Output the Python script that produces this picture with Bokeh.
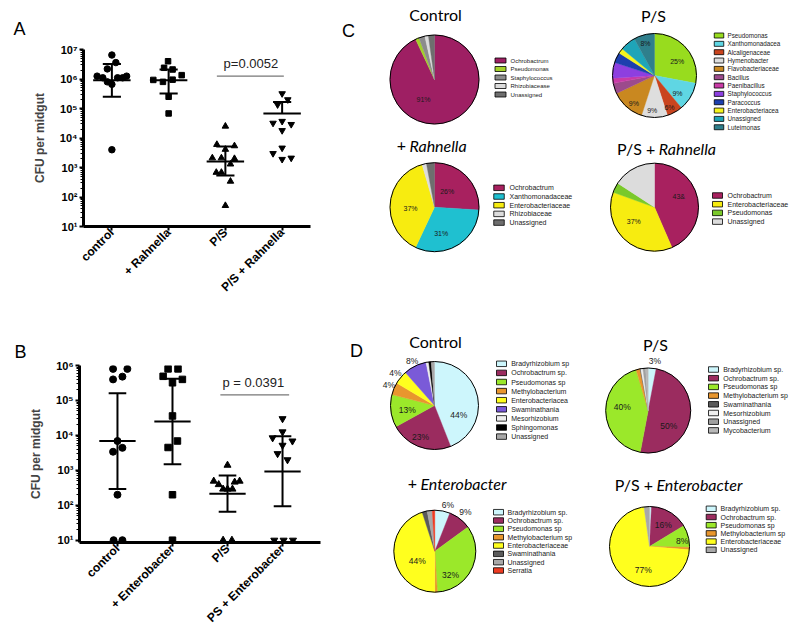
import numpy as np
from bokeh.plotting import figure
from bokeh.models import Range1d, FixedTicker
from bokeh.layouts import row, column
from bokeh.embed import file_html
from bokeh.resources import INLINE
from bokeh.core.properties import value

SANS = "Liberation Sans"
TITLE = "Lato"
SUP = str.maketrans("0123456789", "⁰¹²³⁴⁵⁶⁷⁸⁹")

# ---------------- Panel A data (CFU per midgut) ----------------
A_groups = ["control", "+ Rahnella", "P/S", "P/S + Rahnella"]
A_control_cfu = [6.5e6, 3.6e6, 2.2e6, 1.25e6, 1.1e6, 1.1e6, 1.1e6, 1.25e6, 8.0e5, 6.6e5, 4.0e3]
A_control_dx = [0.00, 0.07, -0.08, -0.26, -0.16, 0.10, 0.19, 0.26, -0.08, 0.00, 0.00]
A_rahnella_cfu = [4.0e6, 2.4e6, 2.1e6, 1.35e6, 9.3e5, 8.0e5, 9.5e5, 2.5e5, 6.8e4]
A_rahnella_dx = [-0.01, -0.08, 0.07, 0.23, -0.27, -0.10, 0.07, 0.00, 0.00]
A_ps_cfu = [2.5e4, 6.0e3, 5.4e3, 4.1e3, 2.1e3, 2.1e3, 2.0e3, 1.3e3, 6.8e2, 6.8e2, 3.4e2, 51]
A_ps_dx = [0.00, -0.15, 0.16, 0.00, -0.23, -0.07, 0.16, 0.09, -0.16, -0.07, 0.09, 0.00]
A_psr_cfu = [3.2e5, 2.0e5, 1.35e5, 3.2e4, 3.7e4, 2.9e4, 1.8e4, 4.6e3, 3.0e3, 1.9e3, 2.1e3]
A_psr_dx = [0.00, 0.10, -0.08, -0.16, 0.00, 0.16, 0.00, 0.00, -0.16, 0.00, 0.16]
A_mean = [9.1e5, 9.1e5, 1.6e3, 6.8e4]
A_upper = [3.2e6, 2.1e6, 5.2e3, 1.65e5]
A_lower = [2.5e5, 3.2e5, 5.4e2, None]
A_pvalue = "p=0.0052"

# ---------------- Panel B data ----------------
B_groups = ["control", "+ Enterobacter", "P/S", "PS + Enterobacter"]
B_control_cfu = [8.0e5, 8.0e5, 4.0e5, 4.8e5, 6.9e3, 3.4e3, 4.4e3, 200, 10, 10]
B_control_dx = [-0.08, 0.18, -0.08, 0.09, 0.00, -0.08, 0.09, 0.00, -0.07, 0.09]
B_entero_cfu = [8.0e5, 8.0e5, 4.9e5, 4.0e5, 3.2e5, 3.6e4, 6.9e3, 4.5e3, 200, 10]
B_entero_dx = [-0.08, 0.10, -0.17, 0.18, 0.00, 0.00, 0.09, -0.08, 0.00, 0.00]
B_ps_cfu = [1.4e3, 490, 390, 490, 460, 290, 290, 290, 10, 10]
B_ps_dx = [0.00, -0.25, -0.16, 0.22, 0.13, -0.08, 0.00, 0.09, -0.08, 0.08]
B_pse_cfu = [3.0e4, 1.26e4, 8.5e3, 6.9e3, 5.2e3, 3.0e3, 2.0e3, 10, 10, 10]
B_pse_dx = [0.00, 0.00, -0.18, 0.18, 0.00, -0.09, 0.09, -0.15, 0.02, 0.19]
B_mean = [6.9e3, 2.5e4, 215, 930]
B_upper = [1.6e5, 4.2e5, 710, 9.5e3]
B_lower = [290, 1.5e3, 65, 93]
B_pvalue = "p = 0.0391"

# ---------------- Panel C data (% of reads) ----------------
C1_names = ["Ochrobactrum", "Pseudomonas", "Staphylococcus", "Rhizobiacease", "Unassigned"]
C1_pct = [93, 1.3, 2.2, 1.3, 2.2]
C2_names = ["Pseudomonas", "Xanthomonadacea", "Alcaligenaceae", "Hymenobacter", "Flavobacteriaceae",
            "Bacillus", "Paenibacillus", "Staphylococcus", "Paracoccus", "Enterobacteriacea",
            "Unassigned", "Luteimonas"]
C2_pct = [28, 11, 6, 10, 13, 4, 2, 6, 4, 2, 6, 8]
C3_names = ["Ochrobactrum", "Xanthomonadaceae", "Enterobacteriaceae", "Rhizobiaceae", "Unassigned"]
C3_pct = [26, 31, 38.5, 1.6, 2.9]
C4_names = ["Ochrobactrum", "Enterobacteriaceae", "Pseudomonas", "Unassigned"]
C4_pct = [43.5, 37, 3.7, 15.8]

# ---------------- Panel D data ----------------
D1_names = ["Bradyrhizobium sp", "Ochrobactrum sp.", "Pseudomonas sp", "Methylobacterium",
            "Enterobacteriacea", "Swaminathania", "Mesorhizobium", "Sphingomonas", "Unassigned"]
D1_pct = [44, 23, 12, 4.5, 5, 8.4, 1, 0.9, 1.2]
D2_names = ["Bradyrhizobium sp.", "Ochrobactrum sp.", "Pseudomonas sp", "Methylobacterium sp",
            "Swaminathania", "Mesorhizobium", "Unassigned", "Mycobacterium"]
D2_pct = [3, 50, 42.4, 1.5, 0.3, 0.8, 1, 1]
D3_names = ["Bradyrhizobium sp.", "Ochrobactrum sp.", "Pseudomonas sp", "Methylobacterium sp",
            "Enterobacteriaceae", "Swaminathania", "Unassigned", "Serratia"]
D3_pct = [6, 9, 34, 1, 45, 2, 2, 1]
D4_names = ["Bradyrhizobium sp.", "Ochrobactrum sp.", "Pseudomonas sp", "Methylobacterium sp",
            "Enterobacteriaceae", "Unassigned"]
D4_pct = [0.8, 15.5, 9, 1, 71.5, 2.2]

# slice colours (style)
C1_colors = ["#9e1f63", "#a3d12a", "#8c8c8c", "#dcdcdc", "#6e6e6e"]
C2_colors = ["#98dc1e", "#5fd6e3", "#c9441e", "#dedede", "#c98820", "#9c4b8c", "#c93aa6",
             "#8d3fe0", "#1c3fae", "#f5f51e", "#1ea5b8", "#2f7f8c"]
C3_colors = ["#a8215f", "#1fc0d0", "#f7ec10", "#dcdcdc", "#6e6e6e"]
C4_colors = ["#a8215f", "#f7ec10", "#7ac92a", "#dcdcdc"]
D1_colors = ["#cdf6fc", "#9b2c5f", "#9be82a", "#e8962e", "#ffff1e", "#7a5ad8", "#eeeeee", "#000000", "#a8a8a8"]
D2_colors = ["#cdf6fc", "#9b2c5f", "#9be82a", "#e8962e", "#5a5a5a", "#eeeeee", "#a0a0a0", "#b8b8b8"]
D3_colors = ["#cdf6fc", "#9b2c5f", "#9be82a", "#e8962e", "#ffff1e", "#5a5a5a", "#a8a8a8", "#ee3b22"]
D4_colors = ["#cdf6fc", "#9b2c5f", "#9be82a", "#e8962e", "#ffff1e", "#a8a8a8"]


def dot_panel(height, borders, xr, yr, exps, groups, series, mean, upper, lower,
              sizes, pline, ptext, label_size, letter, letter_offset, letter_standoff, letter_valign):
    left, right, top, bottom = borders
    p = figure(width=340, height=height, x_range=Range1d(*xr),
               y_range=Range1d(*yr), y_axis_type="log",
               output_backend="svg", toolbar_location=None,
               min_border_left=left, min_border_right=right,
               min_border_top=top, min_border_bottom=bottom)
    p.outline_line_color = None
    p.grid.visible = False
    p.title.text = letter
    p.title.align = "left"
    p.title.offset = letter_offset
    p.title.standoff = letter_standoff
    p.title.vertical_align = letter_valign
    p.title.text_font = SANS
    p.title.text_font_size = "18px"
    p.title.text_font_style = "normal"
    p.title.text_color = "black"
    majors = [10 ** e for e in exps]
    minors = [m * 10 ** e for e in exps[:-1] for m in range(2, 10)]
    p.yaxis.ticker = FixedTicker(ticks=majors, minor_ticks=minors)
    p.yaxis.major_label_overrides = {10 ** e: "10" + str(e).translate(SUP) for e in exps}
    p.xaxis.ticker = FixedTicker(ticks=list(range(len(groups))))
    p.xaxis.major_label_overrides = {i: g for i, g in enumerate(groups)}
    p.xaxis.major_label_orientation = np.pi / 4
    for ax in (p.xaxis, p.yaxis):
        ax.axis_line_width = 3
        ax.axis_line_color = "black"
        ax.major_tick_in = 0
        ax.major_tick_out = 4
        ax.major_tick_line_width = 2
        ax.major_label_text_font = SANS
        ax.major_label_text_font_style = "bold"
        ax.major_label_text_color = "black"
    p.xaxis.minor_tick_line_color = None
    p.xaxis.major_label_standoff = 0
    p.xaxis.major_label_text_font_size = label_size
    p.yaxis.major_label_text_font_size = "11px"
    p.yaxis.major_label_standoff = 2
    p.yaxis.minor_tick_in = 0
    p.yaxis.minor_tick_out = 3
    p.yaxis.minor_tick_line_width = 1
    p.yaxis.minor_tick_line_color = "black"
    p.yaxis.axis_label = "CFU per midgut"
    p.yaxis.axis_label_text_font = SANS
    p.yaxis.axis_label_text_font_style = "bold"
    p.yaxis.axis_label_text_font_size = "12px"
    p.yaxis.axis_label_standoff = 10

    markers = ["circle", "square", "triangle", "inverted_triangle"]
    for i, (vals, dx) in enumerate(series):
        p.scatter(x=[i + d for d in dx], y=vals, marker=markers[i], size=sizes[i],
                  fill_color="black", line_color="black")
    n = len(groups)
    xs = list(range(n))
    lows = [lower[i] if lower[i] is not None else mean[i] for i in xs]
    p.segment(x0=xs, y0=lows, x1=xs, y1=upper, line_color="black", line_width=2)
    p.segment(x0=[i - 0.33 for i in xs], y0=mean, x1=[i + 0.33 for i in xs], y1=mean,
              line_color="black", line_width=2)
    p.segment(x0=[i - 0.16 for i in xs], y0=upper, x1=[i + 0.16 for i in xs], y1=upper,
              line_color="black", line_width=2)
    lx = [i for i in xs if lower[i] is not None]
    p.segment(x0=[i - 0.16 for i in lx], y0=[lower[i] for i in lx],
              x1=[i + 0.16 for i in lx], y1=[lower[i] for i in lx],
              line_color="black", line_width=2)
    (x0, x1, yl) = pline
    p.segment(x0=[x0], y0=[yl], x1=[x1], y1=[yl], line_color="#777777", line_width=1.2)
    (tx, ty, tt) = ptext
    p.text(x=[tx], y=[ty], text=[tt], text_font=value(SANS), text_font_size="13px",
           text_align="center", text_baseline="middle", text_color="#222222")
    return p


pA = dot_panel(310, (83, 30, 49, 84), (-0.5, 3.5), (10.0, 1.0e7), list(range(1, 8)), A_groups,
               [(A_control_cfu, A_control_dx), (A_rahnella_cfu, A_rahnella_dx),
                (A_ps_cfu, A_ps_dx), (A_psr_cfu, A_psr_dx)],
               A_mean, A_upper, A_lower, [6.5, 5.5, 6.5, 6.5],
               (1.85, 3.03, 10 ** 6.10), (2.45, 10 ** 6.53, A_pvalue), "12px",
               "A", -70, 20, "middle")

pB = dot_panel(322, (79, 20, 55, 90), (-0.69, 3.69), (10 ** 0.934, 1.0e6), list(range(1, 7)), B_groups,
               [(B_control_cfu, B_control_dx), (B_entero_cfu, B_entero_dx),
                (B_ps_cfu, B_ps_dx), (B_pse_cfu, B_pse_dx)],
               B_mean, B_upper, B_lower, [7, 6.5, 7, 7],
               (1.87, 3.12, 10 ** 5.16), (2.47, 10 ** 5.52, B_pvalue), "12px",
               "B", -65, 7, "bottom")

# ---------------- Pie panels (page-pixel layout) ----------------
R = figure(width=460, height=632, x_range=Range1d(340, 800), y_range=Range1d(-632, 0),
           output_backend="svg", toolbar_location=None, min_border=0,
           x_axis_type=None, y_axis_type=None)
R.outline_line_color = None
R.grid.visible = False


def draw_pie(pct, colors, cx, cy, r):
    frac = np.array(pct, dtype=float) / np.sum(pct)
    c1 = np.cumsum(frac)
    c0 = c1 - frac
    n = len(pct)
    R.wedge(x=[cx] * n, y=[-cy] * n, radius=r,
            start_angle=list(np.pi / 2 - 2 * np.pi * c0),
            end_angle=list(np.pi / 2 - 2 * np.pi * c1), direction="clock",
            fill_color=colors, line_color=colors, line_width=0.4)
    R.circle(x=[cx], y=[-cy], radius=r, fill_color=None, line_color="black", line_width=1)


def draw_labels(labels, fs):
    R.text(x=[l[1] for l in labels], y=[-l[2] for l in labels], text=[l[0] for l in labels],
           text_font=value(SANS), text_font_size=fs, text_align="center",
           text_baseline="middle", text_color="#1a1a1a")


def draw_legend(names, colors, sx, sw, sh, y0, dy, tx, fs):
    n = len(names)
    ys = [-(y0 + k * dy) for k in range(n)]
    R.rect(x=[sx] * n, y=ys, width=sw, height=sh, fill_color=colors,
           line_color="black", line_width=0.8)
    R.text(x=[tx] * n, y=ys, text=names, text_font=value(SANS), text_font_size=fs,
           text_align="left", text_baseline="middle", text_color="#222222")


def title_plain(t, x, y):
    R.text(x=[x], y=[-y], text=[t], text_font=value(TITLE), text_font_size="16px",
           text_align="center", text_baseline="middle", text_color="black")


def title_mixed(normal, ital, xs, y):
    R.text(x=[xs - 3.5], y=[-y], text=[normal], text_font=value(TITLE), text_font_size="16px",
           text_align="right", text_baseline="middle", text_color="black")
    R.text(x=[xs], y=[-y], text=[ital], text_font=value(TITLE), text_font_size="16px",
           text_font_style=value("italic"), text_align="left", text_baseline="middle",
           text_color="black")


# C
title_plain("Control", 435, 14)
draw_pie(C1_pct, C1_colors, 434, 79, 44.5)
draw_labels([("91%", 423, 99)], "7px")
draw_legend(C1_names, C1_colors, 500, 11, 5, 60, 8.5, 510, "6px")

title_plain("P/S", 653, 15)
draw_pie(C2_pct, C2_colors, 654, 75, 42)
draw_labels([("25%", 676.7, 61), ("9%", 677, 93.3), ("6%", 669, 107.3), ("9%", 651.7, 110),
             ("9%", 633.3, 102.7), ("8%", 645, 43.3)], "7px")
draw_legend(C2_names, C2_colors, 718.5, 9.5, 5, 35, 8.34, 727, "6.3px")

title_mixed("+", "Rahnella", 409, 145)
draw_pie(C3_pct, C3_colors, 434, 206.7, 44.5)
draw_labels([("26%", 446.7, 190.7), ("31%", 440.7, 232.7), ("37%", 410, 208.3)], "7px")
draw_legend(C3_names, C3_colors, 498.5, 10.5, 5.5, 187.3, 8.7, 509, "7px")

title_mixed("P/S +", "Rahnella", 658.3, 148)
draw_pie(C4_pct, C4_colors, 654, 206.7, 44)
draw_labels([("43&", 678.3, 195.7), ("37%", 633.3, 221)], "7px")
draw_legend(C4_names, C4_colors, 717, 10, 5.5, 195, 8.7, 727, "7px")

# D
title_plain("Control", 435, 340.7)
draw_pie(D1_pct, D1_colors, 434, 405, 44)
draw_labels([("44%", 458.3, 414), ("23%", 420, 436), ("13%", 406.7, 409.3),
             ("4%", 388.3, 384), ("4%", 395, 372.3), ("8%", 411.7, 360)], "8.5px")
draw_legend(D1_names, D1_colors, 501, 10, 5.5, 363.3, 9.1, 510.7, "7px")

title_plain("P/S", 655, 344)
draw_pie(D2_pct, D2_colors, 647.7, 410, 42.5)
draw_labels([("3%", 654.3, 360), ("40%", 621.7, 406), ("50%", 668.3, 425.7)], "8.5px")
draw_legend(D2_names, D2_colors, 713, 10, 5.5, 369, 8.7, 722.7, "7px")

title_mixed("+", "Enterobacter", 420, 483.3)
draw_pie(D3_pct, D3_colors, 434.3, 550.7, 41)
draw_labels([("6%", 447.3, 504), ("9%", 465, 511), ("44%", 416.7, 560.7), ("32%", 450, 574)], "8.5px")
draw_legend(D3_names, D3_colors, 498, 10, 5.5, 511.7, 8.33, 507, "7px")

title_mixed("P/S +", "Enterobacter", 656, 484)
draw_pie(D4_pct, D4_colors, 649, 546, 40)
draw_labels([("16%", 662.7, 524.3), ("8%", 681.7, 540), ("77%", 642.7, 569)], "8.5px")
draw_legend(D4_names, D4_colors, 710.7, 10, 5.5, 508.3, 8.2, 720, "7px")

# panel letters C and D
R.text(x=[348, 356], y=[-30.5, -350], text=["C", "D"], text_font=value(SANS),
       text_font_size="18px", text_align="center", text_baseline="middle", text_color="black")

layout = row(column(row(pA), row(pB)), R)
open("out.html", "w").write(file_html(layout, INLINE))
